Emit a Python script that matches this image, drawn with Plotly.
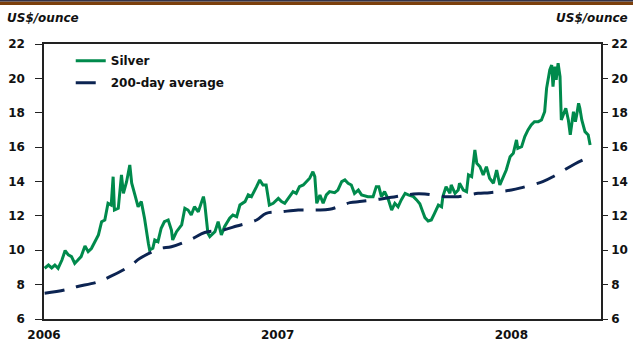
import plotly.graph_objects as go

# ---- data ----
silver_dates = [
    "2006-01-02","2006-01-08","2006-01-13","2006-01-18","2006-01-23","2006-01-29","2006-02-03","2006-02-08",
    "2006-02-13","2006-02-18","2006-02-23","2006-02-28","2006-03-06","2006-03-11","2006-03-16","2006-03-21",
    "2006-03-27","2006-04-01","2006-04-06","2006-04-11","2006-04-16","2006-04-19","2006-04-21","2006-04-27",
    "2006-05-02","2006-05-05","2006-05-10","2006-05-15","2006-05-18","2006-05-23","2006-05-28","2006-06-02",
    "2006-06-07","2006-06-13","2006-06-15","2006-06-20","2006-06-23","2006-06-28","2006-07-03","2006-07-08",
    "2006-07-14","2006-07-19","2006-07-21","2006-07-27","2006-08-04","2006-08-09","2006-08-14","2006-08-19",
    "2006-08-24","2006-08-30","2006-09-07","2006-09-09","2006-09-14","2006-09-17","2006-09-25","2006-09-30",
    "2006-10-05","2006-10-10","2006-10-18","2006-10-23","2006-10-29","2006-11-03","2006-11-11","2006-11-16",
    "2006-11-21","2006-11-29","2006-12-04","2006-12-09","2006-12-14","2006-12-19","2006-12-25","2007-01-02",
    "2007-01-07","2007-01-12","2007-01-17","2007-01-25","2007-01-30","2007-02-04","2007-02-10","2007-02-15",
    "2007-02-20","2007-02-25","2007-02-28","2007-03-03","2007-03-08","2007-03-13","2007-03-18","2007-03-23",
    "2007-03-31","2007-04-05","2007-04-11","2007-04-16","2007-04-21","2007-04-26","2007-05-01","2007-05-07",
    "2007-05-12","2007-05-22","2007-05-30","2007-06-04","2007-06-08","2007-06-12","2007-06-17","2007-06-23",
    "2007-06-28","2007-07-03","2007-07-08","2007-07-13","2007-07-19","2007-07-24","2007-08-01","2007-08-06",
    "2007-08-11","2007-08-16","2007-08-19","2007-08-24","2007-08-29","2007-09-03","2007-09-09","2007-09-14",
    "2007-09-16","2007-09-21","2007-09-27","2007-09-29","2007-10-05","2007-10-10","2007-10-12","2007-10-18",
    "2007-10-23","2007-10-26","2007-10-31","2007-11-05","2007-11-08","2007-11-13","2007-11-18","2007-11-23",
    "2007-11-28","2007-12-04","2007-12-09","2007-12-14","2007-12-19","2007-12-24","2007-12-30","2008-01-04",
    "2008-01-09","2008-01-11","2008-01-17","2008-01-22","2008-01-27","2008-02-01","2008-02-06","2008-02-12",
    "2008-02-17","2008-02-22","2008-02-25","2008-02-27","2008-03-01","2008-03-04","2008-03-06","2008-03-09",
    "2008-03-11","2008-03-14","2008-03-17","2008-03-19","2008-03-22","2008-03-26","2008-03-30","2008-04-02",
    "2008-04-07","2008-04-10","2008-04-12","2008-04-15","2008-04-17","2008-04-20","2008-04-25","2008-04-30",
    "2008-05-03",
]
silver_values = [
    8.95, 9.14, 8.97, 9.14, 8.95, 9.43, 9.98, 9.73,
    9.63, 9.24, 9.43, 9.63, 10.25, 9.92, 10.10, 10.50,
    10.89, 11.66, 11.76, 12.73, 12.63, 14.28, 12.34, 12.44,
    14.38, 13.31, 13.99, 14.96, 13.90, 13.22, 12.53, 12.83,
    11.86, 10.41, 10.02, 10.12, 10.60, 10.50, 11.28, 11.66,
    11.76, 11.18, 10.60, 11.08, 11.47, 12.44, 12.34, 12.05,
    12.53, 12.24, 13.12, 12.73, 10.99, 10.79, 11.08, 11.66,
    10.89, 11.37, 11.86, 12.05, 11.95, 12.63, 12.83, 13.22,
    13.12, 13.70, 14.09, 13.80, 13.80, 12.63, 12.73, 13.02,
    12.83, 12.73, 13.02, 13.41, 13.31, 13.70, 13.80, 13.99,
    14.19, 14.57, 14.28, 12.73, 13.22, 12.73, 13.22, 13.41,
    13.35, 13.50, 13.99, 14.09, 13.90, 13.80, 13.31, 13.50,
    13.22, 13.12, 13.12, 13.70, 13.70, 13.12, 13.41, 12.93,
    12.34, 12.73, 12.53, 12.93, 13.31, 13.22, 13.12, 12.93,
    12.70, 12.20, 11.90, 11.70, 11.76, 12.15, 12.63, 12.53,
    13.12, 13.70, 13.31, 13.80, 13.31, 13.50, 13.90, 13.50,
    13.41, 14.38, 14.28, 15.83, 15.06, 14.86, 14.38, 14.86,
    14.19, 13.90, 14.67, 13.80, 14.28, 14.67, 15.44, 15.64,
    16.42, 15.93, 16.03, 16.61, 17.00, 17.29, 17.48, 17.48,
    17.58, 18.06, 19.42, 19.81, 20.49, 20.78, 19.52, 20.68,
    19.91, 20.88, 20.10, 17.58, 17.87, 18.26, 17.58, 16.71,
    18.06, 17.48, 17.87, 18.55, 18.26, 17.58, 16.90, 16.71,
    16.12,
]

avg_dates = [
    "2006-01-02","2006-02-03","2006-02-21","2006-03-24","2006-04-14","2006-05-15","2006-05-31","2006-07-01",
    "2006-07-19","2006-08-19","2006-09-09","2006-10-08","2006-10-29","2006-11-29","2006-12-14","2007-01-07",
    "2007-02-02","2007-03-03","2007-03-23","2007-04-24","2007-05-09","2007-06-09","2007-06-28","2007-08-01",
    "2007-08-19","2007-09-19","2007-10-10","2007-11-10","2007-11-28","2008-01-01","2008-01-19","2008-02-19",
    "2008-03-08","2008-04-09","2008-04-28",
]
avg_values = [
    7.50, 7.69, 7.88, 8.13, 8.46, 9.08, 9.53, 10.10,
    10.20, 10.64, 11.03, 11.18, 11.41, 11.76, 12.15, 12.24,
    12.34, 12.34, 12.38, 12.77, 12.83, 12.97, 13.08, 13.27,
    13.27, 13.12, 13.12, 13.31, 13.35, 13.50, 13.66, 13.99,
    14.32, 15.02, 15.35,
]

year_ticks = ["2006-01-01", "2007-01-01", "2008-01-01"]
year_labels = ["2006", "2007", "2008"]
y_ticks = [6, 8, 10, 12, 14, 16, 18, 20, 22]

FONT = "DejaVu Sans"
TXT = "#111111"
AX = "#222222"

fig = go.Figure()
fig.add_trace(go.Scatter(
    x=silver_dates, y=silver_values, mode="lines", name="Silver",
    line=dict(color="#008a4c", width=3), legendgroup="a",
))
fig.add_trace(go.Scatter(
    x=avg_dates, y=avg_values, mode="lines", name="200-day average",
    line=dict(color="#0c2452", width=3, dash="20px,12px", shape="spline"), legendgroup="b",
))
# invisible trace to carry the right-hand axis
fig.add_trace(go.Scatter(x=[year_ticks[0]], y=[y_ticks[0]], yaxis="y2", mode="lines",
                         showlegend=False, hoverinfo="skip", line=dict(width=0)))

fig.update_layout(
    width=633, height=345,
    margin=dict(l=44, r=32, t=44, b=26),
    paper_bgcolor="white", plot_bgcolor="white",
    showlegend=True,
    legend=dict(
        x=0.048, y=0.992, xanchor="left", yanchor="top",
        bgcolor="rgba(0,0,0,0)", borderwidth=0,
        font=dict(family=FONT, size=12, color=TXT, weight="bold"),
        traceorder="grouped", tracegroupgap=3,
    ),
    xaxis=dict(
        type="date", range=["2006-01-01", "2008-05-20"],
        tickvals=year_ticks, ticktext=year_labels,
        showgrid=False, zeroline=False,
        showline=True, linecolor=AX, linewidth=1.5, mirror=True,
        ticks="", ticklabelstandoff=4, automargin=False,
        tickfont=dict(family=FONT, size=12, color=TXT, weight="bold"),
    ),
    yaxis=dict(
        range=[6, 22], tickvals=y_ticks, showgrid=False, zeroline=False,
        showline=True, linecolor=AX, linewidth=1.5, automargin=False,
        ticks="outside", ticklen=7, tickcolor=AX, tickwidth=1, ticklabelstandoff=8,
        tickfont=dict(family=FONT, size=12, color=TXT, weight="bold"),
    ),
    yaxis2=dict(
        range=[6, 22], tickvals=y_ticks, overlaying="y", side="right",
        showgrid=False, zeroline=False, automargin=False,
        showline=True, linecolor=AX, linewidth=1.5,
        ticks="outside", ticklen=5, tickcolor=AX, tickwidth=1, ticklabelstandoff=1,
        tickfont=dict(family=FONT, size=12, color=TXT, weight="bold"),
    ),
    annotations=[
        dict(text="US$/ounce", xref="paper", yref="paper", x=-0.07, y=1.095,
             xanchor="left", yanchor="middle", showarrow=False,
             font=dict(family=FONT, size=12, color=TXT, weight="bold", style="italic")),
        dict(text="US$/ounce", xref="paper", yref="paper", x=1.052, y=1.095,
             xanchor="right", yanchor="middle", showarrow=False,
             font=dict(family=FONT, size=12, color=TXT, weight="bold", style="italic")),
    ],
    shapes=[
        dict(type="rect", xref="paper", yref="paper", x0=-0.08, x1=1.07,
             y0=(319 - 5) / 275, y1=(319 - 1.5) / 275, fillcolor="#7c400c", line=dict(width=0), layer="above"),
        dict(type="rect", xref="paper", yref="paper", x0=-0.08, x1=1.07,
             y0=(319 - 1.5) / 275, y1=(319 + 1) / 275, fillcolor="#34344a", line=dict(width=0), layer="above"),
    ],
)

fig.write_html("out.html")
